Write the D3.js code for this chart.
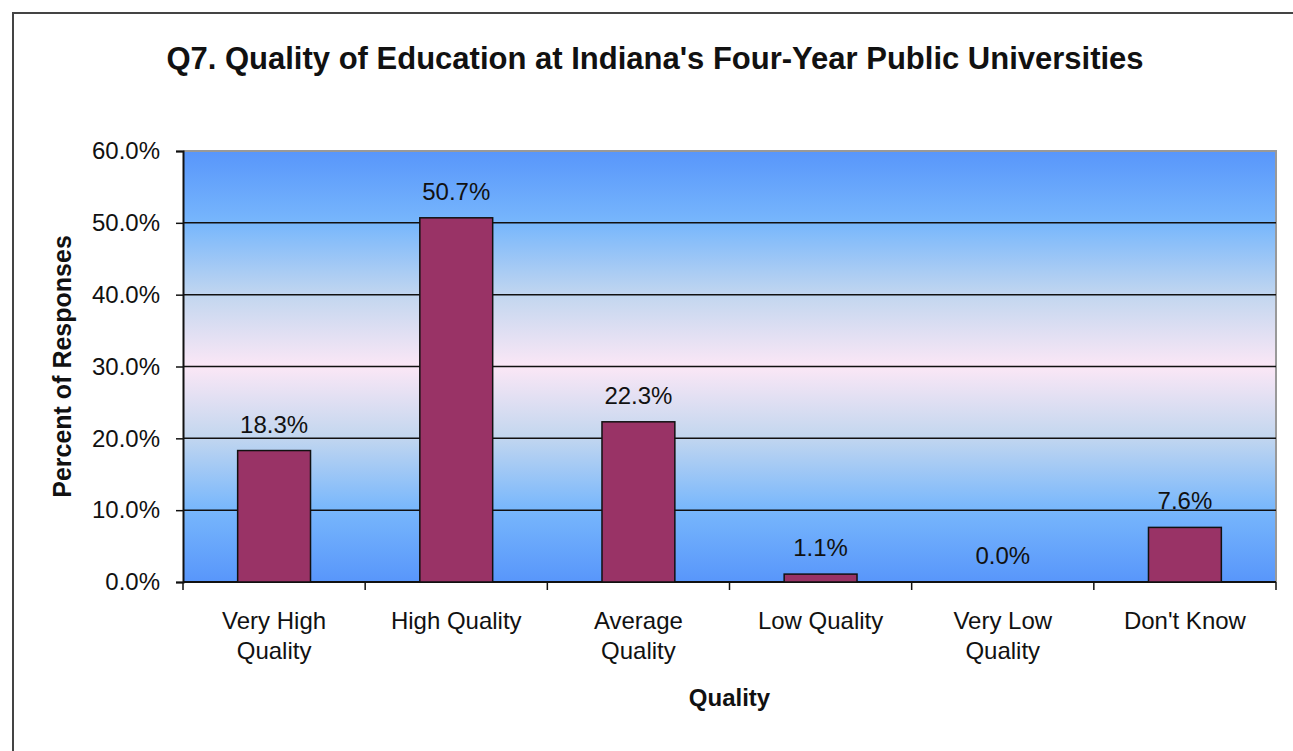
<!DOCTYPE html>
<html>
<head>
<meta charset="utf-8">
<script src="https://cdn.jsdelivr.net/npm/d3@7"></script>
<style>
  body { margin: 0; background: #fff; }
  text { font-family: Arial, "Liberation Sans", sans-serif; fill: #111; }
</style>
</head>
<body>
<svg width="1293" height="751"></svg>
<script>
// chart data
const categories = ["Very High Quality", "High Quality", "Average Quality", "Low Quality", "Very Low Quality", "Don't Know"];
const categoryLines = [["Very High", "Quality"], ["High Quality"], ["Average", "Quality"], ["Low Quality"], ["Very Low", "Quality"], ["Don't Know"]];
const percents = [18.3, 50.7, 22.3, 1.1, 0.0, 7.6];
const yTicks = [0, 10, 20, 30, 40, 50, 60];

const svg = d3.select("svg");

// outer chart frame (runs off the right and bottom edge)
svg.append("rect")
  .attr("x", 13).attr("y", 13)
  .attr("width", 1300).attr("height", 760)
  .attr("fill", "none")
  .attr("stroke", "#444")
  .attr("stroke-width", 2);

const margin = { left: 183, right: 1276, top: 151, bottom: 582 };

const x = d3.scaleBand()
  .domain(categories)
  .range([margin.left, margin.right])
  .paddingInner(0.6)
  .paddingOuter(0.3);

const y = d3.scaleLinear().domain([0, 60]).range([margin.bottom, margin.top]);

// background gradient of the plot area
const defs = svg.append("defs");
const grad = defs.append("linearGradient")
  .attr("id", "bg")
  .attr("x1", 0).attr("y1", 0).attr("x2", 0).attr("y2", 1);
[[0, "#5896fb"], [0.17, "#78b7fc"], [0.34, "#c4d7ef"], [0.5, "#fbe7f6"],
 [0.66, "#c4d7ef"], [0.83, "#78b7fc"], [1, "#5896fb"]].forEach(([o, c]) => {
  grad.append("stop").attr("offset", o).attr("stop-color", c);
});

svg.append("rect")
  .attr("x", margin.left).attr("y", margin.top)
  .attr("width", margin.right - margin.left)
  .attr("height", margin.bottom - margin.top)
  .attr("fill", "url(#bg)");

// plot border top & right (grey)
svg.append("path")
  .attr("d", `M${margin.left},${margin.top}H${margin.right}V${margin.bottom}`)
  .attr("fill", "none")
  .attr("stroke", "#999")
  .attr("stroke-width", 2);

// gridlines
svg.append("g")
  .selectAll("line")
  .data(yTicks.filter((t) => t > 0 && t < 60))
  .join("line")
  .attr("x1", margin.left).attr("x2", margin.right)
  .attr("y1", (d) => y(d)).attr("y2", (d) => y(d))
  .attr("stroke", "#111")
  .attr("stroke-width", 1.5);

// y axis
const yAxis = svg.append("g")
  .attr("transform", `translate(${margin.left},0)`)
  .call(d3.axisLeft(y).tickValues(yTicks).tickSize(7).tickPadding(16)
    .tickFormat((d) => d.toFixed(1) + "%"));
yAxis.select(".domain").attr("stroke", "#111").attr("stroke-width", 2);
yAxis.selectAll(".tick line").attr("stroke", "#111").attr("stroke-width", 1.5);
yAxis.selectAll(".tick text")
  .attr("font-size", 24)
  .attr("font-family", "Arial, 'Liberation Sans', sans-serif")
  .attr("fill", "#111");

// x axis line and category divider ticks
svg.append("line")
  .attr("x1", margin.left).attr("x2", margin.right)
  .attr("y1", margin.bottom).attr("y2", margin.bottom)
  .attr("stroke", "#111").attr("stroke-width", 2);

const dividers = d3.range(categories.length + 1).map((i) => margin.left + i * (margin.right - margin.left) / categories.length);
svg.append("g")
  .selectAll("line")
  .data(dividers)
  .join("line")
  .attr("x1", (d) => d).attr("x2", (d) => d)
  .attr("y1", margin.bottom).attr("y2", margin.bottom + 8)
  .attr("stroke", "#111").attr("stroke-width", 1.5);

// bars
svg.append("g")
  .selectAll("rect")
  .data(percents)
  .join("rect")
  .attr("x", (d, i) => x(categories[i]))
  .attr("y", (d) => y(d))
  .attr("width", x.bandwidth())
  .attr("height", (d) => y(0) - y(d))
  .attr("fill", "#993366")
  .attr("stroke", "#111")
  .attr("stroke-width", 1.5);

// data labels
svg.append("g")
  .selectAll("text")
  .data(percents)
  .join("text")
  .attr("x", (d, i) => x(categories[i]) + x.bandwidth() / 2)
  .attr("y", (d) => y(d) - 18)
  .attr("text-anchor", "middle")
  .attr("font-size", 24)
  .text((d) => d.toFixed(1) + "%");

// category labels
const catG = svg.append("g")
  .selectAll("text")
  .data(categoryLines)
  .join("text")
  .attr("text-anchor", "middle")
  .attr("font-size", 24);
catG.each(function (lines, i) {
  const cx = x(categories[i]) + x.bandwidth() / 2;
  d3.select(this).selectAll("tspan")
    .data(lines)
    .join("tspan")
    .attr("x", cx)
    .attr("y", (d, j) => 629 + j * 30)
    .text((d) => d);
});

// titles
svg.append("text")
  .attr("x", 655).attr("y", 69)
  .attr("text-anchor", "middle")
  .attr("font-size", 31)
  .attr("font-weight", "bold")
  .text("Q7. Quality of Education at Indiana's Four-Year Public Universities");

svg.append("text")
  .attr("x", (margin.left + margin.right) / 2).attr("y", 706)
  .attr("text-anchor", "middle")
  .attr("font-size", 24)
  .attr("font-weight", "bold")
  .text("Quality");

svg.append("text")
  .attr("transform", `translate(71,${(margin.top + margin.bottom) / 2}) rotate(-90)`)
  .attr("text-anchor", "middle")
  .attr("font-size", 25)
  .attr("font-weight", "bold")
  .text("Percent of Responses");
</script>
</body>
</html>
